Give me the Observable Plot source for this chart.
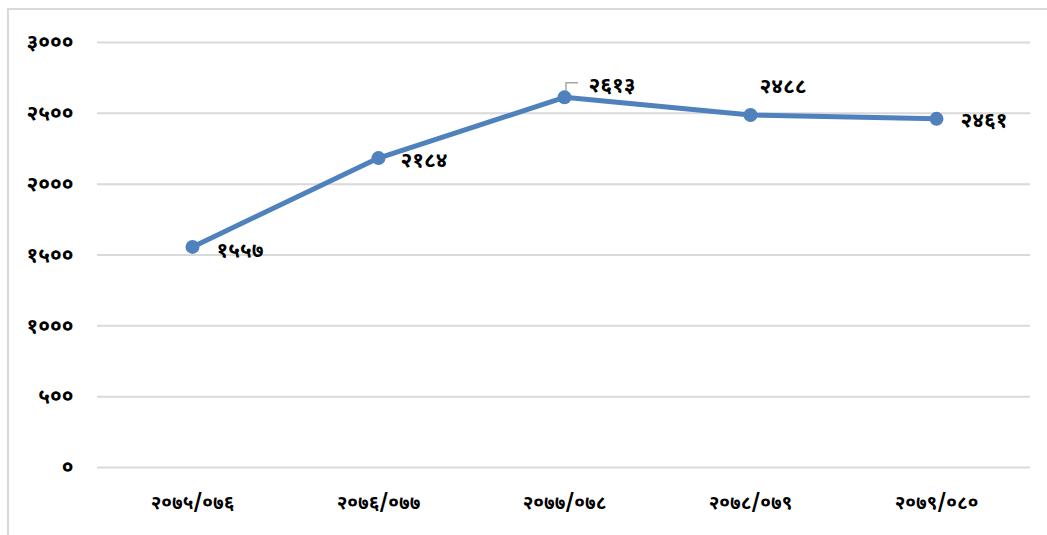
<!DOCTYPE html>
<html>
<head>
<meta charset="utf-8">
<script src="https://cdn.jsdelivr.net/npm/d3@7"></script>
<script src="https://cdn.jsdelivr.net/npm/@observablehq/plot@0.6"></script>
<style>
  html, body { margin: 0; padding: 0; background: #fff; }
  #wrap { position: relative; width: 1047px; height: 535px; overflow: hidden; }
  #frame { position: absolute; left: 7px; top: 8px; width: 1100px; height: 600px;
           border-left: 2px solid #d9d9d9; border-top: 2px solid #d9d9d9; }
  #chart { position: absolute; left: 0; top: 0; }
  svg { font-family: "Noto Sans Devanagari", "Lohit Devanagari", "FreeSans", "Noto Sans", sans-serif; }
</style>
</head>
<body>
<div id="wrap"><div id="frame"></div><div id="chart"></div></div>
<script>
const years = ["२०७५/०७६", "२०७६/०७७", "२०७७/०७८", "२०७८/०७९", "२०७९/०८०"];
const values = [1557, 2184, 2613, 2488, 2461];
const yTicks = [0, 500, 1000, 1500, 2000, 2500, 3000];

const devDigits = "०१२३४५६७८९";
const toDev = n => String(n).replace(/[0-9]/g, d => devDigits[+d]);

const data = years.map((y, i) => ({year: y, value: values[i], i}));
const lineColor = "#4f81bd";

// label placement styles (per point index)
const labelStyle = [
  {dx: 24, dy: 3},
  {dx: 22, dy: 2},
  {dx: 24, dy: -12},
  {dx: 9, dy: -29},
  {dx: 24, dy: 1}
];

const labelMarks = labelStyle.map((s, k) => Plot.text(data.filter(d => d.i === k), {
  x: "year", y: "value", text: d => toDev(d.value),
  dx: s.dx, dy: s.dy, textAnchor: "start",
  fontSize: 21, fontWeight: "bold", fill: "#000"
}));

// leader line for the peak label
const leader = Plot.dot(data.filter(d => d.i === 2), {x: "year", y: "value", r: 0,
  render: (index, scales, values) => {
    const g = d3.create("svg:g");
    for (const j of index) {
      const px = values.x[j], py = values.y[j];
      g.append("path")
        .attr("d", `M${px + 2},${py - 6} L${px + 2},${py - 14} L${px + 14},${py - 14}`)
        .attr("fill", "none").attr("stroke", "#a6a6a6").attr("stroke-width", 1.5);
    }
    return g.node();
  }
});

const chart = Plot.plot({
  width: 1047,
  height: 535,
  marginLeft: 97,
  marginRight: 17,
  marginTop: 42,
  marginBottom: 68,
  style: {fontWeight: "bold", color: "#000", background: "transparent", overflow: "visible"},
  x: {type: "point", domain: years, padding: 0.5, label: null},
  y: {domain: [0, 3000], ticks: yTicks, label: null},
  marks: [
    Plot.ruleY(yTicks, {stroke: "#d9d9d9", strokeWidth: 2}),
    Plot.axisY(yTicks, {tickSize: 0, tickPadding: 24, tickFormat: toDev, fontSize: 21, fontWeight: "bold", fill: "#000"}),
    Plot.axisX(years, {tickSize: 0, tickPadding: 28, fontSize: 19, fontWeight: "bold", fill: "#000"}),
    leader,
    Plot.line(data, {x: "year", y: "value", stroke: lineColor, strokeWidth: 5, strokeLinejoin: "round"}),
    Plot.dot(data, {x: "year", y: "value", r: 7, fill: lineColor}),
    ...labelMarks
  ]
});
document.getElementById("chart").appendChild(chart);
</script>
</body>
</html>
